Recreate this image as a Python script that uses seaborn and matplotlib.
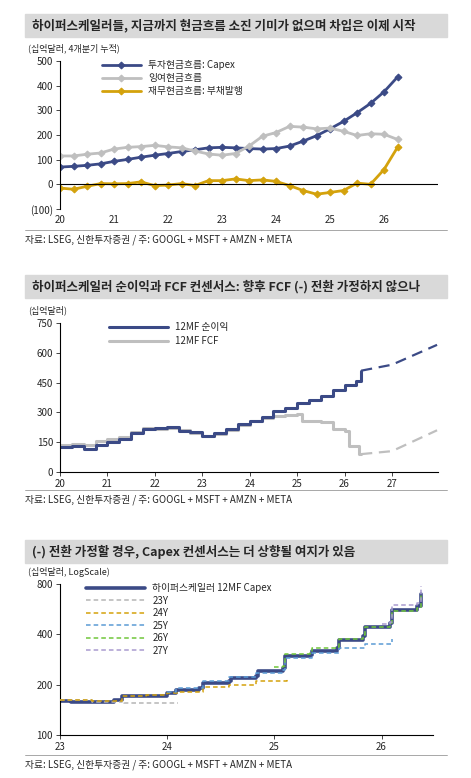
import matplotlib
matplotlib.use("Agg")
import matplotlib.pyplot as plt
import seaborn as sns
import numpy as np
import pandas as pd

sns.set_theme(style="white")
plt.rcParams['font.family'] = ['Noto Sans CJK KR', 'DejaVu Sans']

# ---------- Panel 1 data ----------
q_x = [20 + 0.25 * i for i in range(26)]
capex = [70, 73, 77, 83, 93, 101, 110, 118, 125, 133, 140, 148, 150, 148, 145, 143,
         145, 155, 175, 197, 225, 255, 290, 328, 375, 435]
fcf = [115, 115, 122, 127, 143, 150, 153, 158, 152, 148, 135, 123, 118, 125, 155, 195,
       210, 235, 232, 225, 228, 215, 198, 205, 203, 182]
fin = [-15, -20, -8, 3, 2, 3, 10, -5, -3, 3, -5, 15, 15, 22, 15, 18,
       12, -5, -25, -40, -33, -25, 5, 0, 60, 150]

# ---------- Panel 2 data ----------
ni_x = [20.0, 20.25, 20.5, 20.75, 21.0, 21.25, 21.5, 21.75, 22.0, 22.25, 22.5, 22.75, 23.0,
        23.25, 23.5, 23.75, 24.0, 24.25, 24.5, 24.75, 25.0, 25.25, 25.5, 25.75, 26.0, 26.25, 26.35]
ni_y = [125, 130, 118, 135, 150, 165, 195, 215, 220, 225, 205, 200, 180,
        195, 215, 240, 255, 275, 305, 320, 345, 360, 385, 415, 440, 460, 510]
ni_fx = [26.35, 27.0, 27.95]
ni_fy = [510, 540, 640]
fc_x = [20.0, 20.25, 20.5, 20.75, 21.0, 21.25, 21.5, 21.75, 22.0, 22.25, 22.5, 22.75, 23.0,
        23.25, 23.5, 23.75, 24.0, 24.25, 24.5, 24.75, 25.0, 25.1, 25.5, 25.75, 26.0, 26.1, 26.3, 26.35]
fc_y = [138, 140, 135, 155, 165, 175, 200, 220, 215, 220, 210, 195, 180,
        190, 210, 235, 255, 270, 280, 285, 290, 255, 250, 215, 205, 130, 90, 90]
fc_fx = [26.35, 27.0, 27.95]
fc_fy = [90, 105, 210]

# ---------- Panel 3 data ----------
cx_x = [23.0, 23.1, 23.3, 23.5, 23.58, 23.8, 24.0, 24.08, 24.3, 24.33, 24.58, 24.6, 24.83,
        24.85, 25.08, 25.1, 25.33, 25.35, 25.58, 25.6, 25.83, 25.85, 26.08, 26.1, 26.33, 26.37]
cx_y = [160, 157, 158, 163, 170, 172, 178, 185, 190, 205, 210, 220, 225,
        240, 250, 295, 300, 320, 330, 370, 390, 440, 470, 560, 590, 700]
y23_x = [23.0, 23.3, 23.58, 23.6, 24.1]
y23_y = [162, 158, 160, 155, 155]
y24_x = [23.0, 23.3, 23.58, 23.8, 24.0, 24.1, 24.33, 24.58, 24.83, 25.12]
y24_y = [163, 160, 172, 173, 178, 180, 193, 198, 210, 215]
y25_x = [24.0, 24.08, 24.33, 24.58, 24.83, 25.08, 25.1, 25.35, 25.6, 25.85, 26.1]
y25_y = [182, 190, 210, 222, 235, 245, 290, 310, 330, 350, 375]
y26_x = [25.0, 25.08, 25.1, 25.33, 25.35, 25.58, 25.6, 25.83, 25.85, 26.08, 26.1, 26.33, 26.37]
y26_y = [255, 260, 305, 310, 330, 335, 375, 395, 445, 470, 555, 575, 690]
y27_x = [26.0, 26.08, 26.1, 26.33, 26.37]
y27_y = [460, 475, 600, 620, 780]

NAVY = "#3b4a86"
GREY = "#bfbfbf"
GOLD = "#d4a20c"

W, H = 471, 778
fig = plt.figure(figsize=(W / 100, H / 100), dpi=100)

def ax_px(l, t, r, b):
    return fig.add_axes([l / W, 1 - b / H, (r - l) / W, (b - t) / H])

def header(top, text):
    fig.patches.append(plt.Rectangle((25 / W, 1 - (top + 23) / H), 422 / W, 23 / H,
                                     transform=fig.transFigure, color="#d9d9d9", zorder=0))
    fig.text(32 / W, 1 - (top + 11.5) / H, text, fontsize=9, fontweight="bold",
             va="center", ha="left")

def footer(y):
    fig.add_artist(plt.Line2D([25 / W, 447 / W], [1 - (y - 10) / H] * 2, color="#999999", lw=0.6))
    fig.text(25 / W, 1 - y / H, "자료: LSEG, 신한투자증권 / 주: GOOGL + MSFT + AMZN + META",
             fontsize=7, va="center", ha="left")

def style(ax):
    sns.despine(ax=ax, top=True, right=True)
    for s in ("left", "bottom"):
        ax.spines[s].set_color("black")
        ax.spines[s].set_linewidth(0.8)
    ax.tick_params(labelsize=7, length=3, width=0.6, direction="out", left=True, bottom=True, pad=2)
    ax.grid(False)

# ---------- Panel 1 ----------
header(14, "하이퍼스케일러들, 지금까지 현금흐름 소진 기미가 없으며 차입은 이제 시작")
fig.text(28 / W, 1 - 48 / H, "(십억달러, 4개분기 누적)", fontsize=6.5, va="center")
ax1 = ax_px(60, 61, 438, 209)
df1 = pd.DataFrame({"x": q_x, "capex": capex, "fcf": fcf, "fin": fin})
sns.lineplot(data=df1, x="x", y="capex", ax=ax1, color=NAVY, lw=2, marker="D", ms=3.5, mec=NAVY,
             label="투자현금흐름: Capex")
sns.lineplot(data=df1, x="x", y="fcf", ax=ax1, color=GREY, lw=2, marker="D", ms=3.5, mec=GREY,
             label="잉여현금흐름")
sns.lineplot(data=df1, x="x", y="fin", ax=ax1, color=GOLD, lw=2, marker="D", ms=3.5, mec=GOLD,
             label="재무현금흐름: 부채발행")
ax1.axhline(0, color="black", lw=0.8)
ax1.set_xlim(20, 27)
ax1.set_ylim(-100, 500)
ax1.set_yticks([-100, 0, 100, 200, 300, 400, 500])
ax1.set_yticklabels(["(100)", "0", "100", "200", "300", "400", "500"])
ax1.set_xticks(range(20, 27))
ax1.set_xticklabels([str(v) for v in range(20, 27)])
ax1.set_xlabel(""); ax1.set_ylabel("")
style(ax1)
ax1.spines["bottom"].set_visible(False)
ax1.tick_params(axis="x", length=0, pad=4)
ax1.legend(loc="upper left", bbox_to_anchor=(0.1, 1.03), frameon=False, fontsize=7,
           handlelength=4, labelspacing=0.3, borderaxespad=0)
footer(240)

# ---------- Panel 2 ----------
header(275, "하이퍼스케일러 순이익과 FCF 컨센서스: 향후 FCF (-) 전환 가정하지 않으나")
fig.text(28 / W, 1 - 310 / H, "(십억달러)", fontsize=6.5, va="center")
ax2 = ax_px(60, 323, 438, 472)
ax2.plot(fc_x, fc_y, color=GREY, lw=2.2, drawstyle="steps-post", label="12MF FCF")
ax2.plot(ni_x, ni_y, color=NAVY, lw=2.2, drawstyle="steps-post", label="12MF 순이익")
ax2.plot(ni_fx, ni_fy, color=NAVY, lw=1.6, ls=(0, (5, 3)))
ax2.plot(fc_fx, fc_fy, color=GREY, lw=1.6, ls=(0, (5, 3)))
ax2.set_xlim(20, 27.97)
ax2.set_ylim(0, 750)
ax2.set_yticks([0, 150, 300, 450, 600, 750])
ax2.set_xticks(range(20, 28))
ax2.set_xticklabels([str(v) for v in range(20, 28)])
style(ax2)
h, l = ax2.get_legend_handles_labels()
ax2.legend(h[::-1], l[::-1], loc="upper left", bbox_to_anchor=(0.12, 1.03), frameon=False,
           fontsize=7, handlelength=6, labelspacing=0.4, borderaxespad=0)
footer(500)

# ---------- Panel 3 ----------
header(540, "(-) 전환 가정할 경우, Capex 컨센서스는 더 상향될 여지가 있음")
fig.text(28 / W, 1 - 572 / H, "(십억달러, LogScale)", fontsize=6.5, va="center")
ax3 = ax_px(60, 584, 433, 735)
ax3.plot(cx_x, cx_y, color=NAVY, lw=2.6, drawstyle="steps-post", label="하이퍼스케일러 12MF Capex", zorder=2)
dash = (0, (3, 2))
ax3.plot(y23_x, y23_y, color="#b5b5b5", lw=1.1, ls=dash, drawstyle="steps-post", label="23Y", zorder=3)
ax3.plot(y24_x, y24_y, color=GOLD, lw=1.1, ls=dash, drawstyle="steps-post", label="24Y", zorder=3)
ax3.plot(y25_x, y25_y, color="#5b9bd5", lw=1.1, ls=dash, drawstyle="steps-post", label="25Y", zorder=3)
ax3.plot(y26_x, y26_y, color="#70c63a", lw=1.1, ls=dash, drawstyle="steps-post", label="26Y", zorder=3)
ax3.plot(y27_x, y27_y, color="#a99bd0", lw=1.1, ls=dash, drawstyle="steps-post", label="27Y", zorder=3)
ax3.set_yscale("log")
ax3.set_ylim(100, 800)
ax3.set_yticks([100, 200, 400, 800])
ax3.set_yticklabels(["100", "200", "400", "800"])
ax3.minorticks_off()
ax3.set_xlim(23, 26.48)
ax3.set_xticks([23, 24, 25, 26])
ax3.set_xticklabels(["23", "24", "25", "26"])
style(ax3)
ax3.legend(loc="upper left", bbox_to_anchor=(0.06, 1.03), frameon=False, fontsize=7,
           handlelength=6, labelspacing=0.25, borderaxespad=0)
footer(765)

fig.savefig("out.png", dpi=100)
